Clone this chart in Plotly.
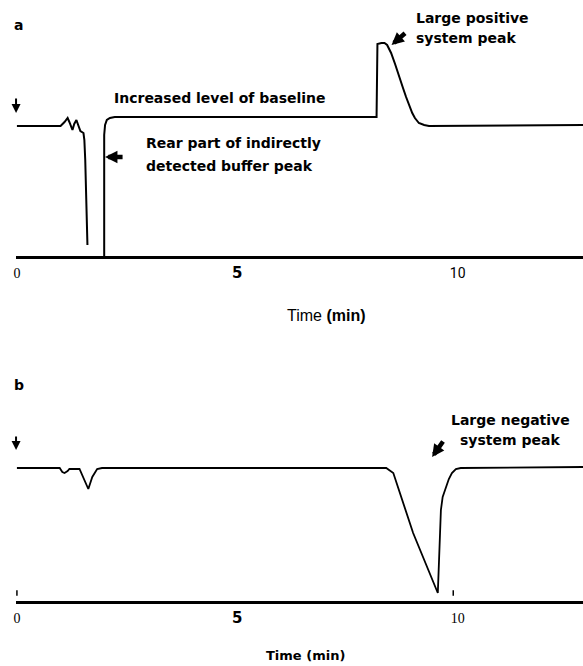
import plotly.graph_objects as go

# ---------------- data (time in min, detector signal in arbitrary units) ----------------
time_a = [0, 0.99, 1.08, 1.15, 1.19, 1.26, 1.30, 1.35, 1.39, 1.44, 1.51, 1.53, 1.55, 1.57, 1.60,
          None,
          1.98, 1.98, 2.00, 2.04, 2.11, 2.22, 8.16, 8.18, 8.27, 8.34, 8.40,
          8.49, 8.58, 8.67, 8.76, 8.83, 8.90, 8.97, 9.03, 9.12, 9.24, 9.35, 12.9]
signal_a = [0, 0, 0.4, 0.8, 0.4, -0.4, 0.2, 0.6, 0.1, -0.5, -0.7, -1.4, -3.4, -7.4, -11.9,
            None,
            -13.2, -0.9, 0.1, 0.6, 0.8, 0.9, 0.9, 8.2, 8.3, 8.3, 8.1,
            7.3, 6.2, 4.9, 3.8, 2.9, 2.0, 1.3, 0.8, 0.3, 0.1, 0.0, 0.1]

time_b = [0, 0.97, 1.03, 1.08, 1.15, 1.19, 1.42, 1.48, 1.55, 1.62, 1.71, 1.82, 1.93,
          8.38, 8.54, 8.99, 9.55, 9.62, 9.66, 9.73, 9.80, 9.87, 9.96, 10.07, 12.9]
signal_b = [0, 0, -0.4, -0.5, -0.3, -0.1, -0.1, -0.7, -1.5, -2.1, -0.9, -0.1, 0,
            0, -0.5, -6.5, -12.5, -4.2, -2.9, -1.9, -1.1, -0.5, -0.1, 0, 0.1]

tick_vals = [0, 5, 10]
tick_text_a = ["<span style='font-family:Liberation Serif'>0</span>",
               "<span style='font-family:DejaVu Sans;font-size:15px'><b>5</b></span>",
               "<span style='font-family:Roboto'>10</span>"]
tick_text_b = ["<span style='font-family:Liberation Serif'>0</span>",
               "<span style='font-family:DejaVu Sans;font-size:15px'><b>5</b></span>",
               "<span style='font-family:Liberation Serif'>10</span>"]
mark_times_b = [0, 9.9]
mark_level_b = [-12.5, -12.5]

# ---------------- figure ----------------
W, H = 583, 666
px_per_min = 44.3
x0_px = 14
x_range = [(13 - x0_px) / px_per_min, (W - x0_px) / px_per_min]

def py(v):
    return 1 - v / H

def px(v):
    return v / W

fig = go.Figure()
fig.add_trace(go.Scatter(x=time_a, y=signal_a, mode="lines", xaxis="x", yaxis="y",
                         line=dict(color="black", width=2), connectgaps=False,
                         showlegend=False, hoverinfo="skip"))
fig.add_trace(go.Scatter(x=time_b, y=signal_b, mode="lines", xaxis="x2", yaxis="y2",
                         line=dict(color="black", width=1.8),
                         showlegend=False, hoverinfo="skip"))
fig.add_trace(go.Scatter(x=mark_times_b, y=mark_level_b, mode="markers", xaxis="x2", yaxis="y2",
                         marker=dict(symbol="line-ns", size=4, line=dict(color="black", width=1.5)),
                         showlegend=False, hoverinfo="skip", cliponaxis=False))

FONT = "Liberation Sans"
xcommon = dict(range=x_range, domain=[13 / W, 1], showline=True, linecolor="black",
               showgrid=False, zeroline=False, ticks="", tickvals=tick_vals,
               tickfont=dict(family=FONT, size=14, color="black"), fixedrange=True)
ycommon = dict(visible=False, showgrid=False, zeroline=False, fixedrange=True)

fig.update_layout(
    width=W, height=H,
    margin=dict(l=0, r=0, t=0, b=0, pad=0),
    paper_bgcolor="white", plot_bgcolor="white",
    xaxis=dict(xcommon, anchor="y", linewidth=2.5, ticktext=tick_text_a, ticklabelstandoff=2),
    yaxis=dict(ycommon, domain=[1 - 256 / H, 1], range=[-13.0, 12.6]),
    xaxis2=dict(xcommon, anchor="y2", linewidth=3, ticktext=tick_text_b, ticklabelstandoff=2),
    yaxis2=dict(ycommon, domain=[1 - 601 / H, 1 - 330 / H], range=[-13.3, 13.8]),
)

bold = dict(family="DejaVu Sans", size=14, color="black")
bold13 = dict(family="DejaVu Sans", size=13, color="black")
plain15 = dict(family="Liberation Sans", size=16, color="black")
texts = [
    ("<b>a</b>", 9, 25, "left", bold),
    ("<b>Increased level of baseline</b>", 110, 98, "left", bold),
    ("<b>Rear part of indirectly</b>", 142, 143, "left", bold),
    ("<b>detected buffer peak</b>", 142, 166, "left", bold),
    ("<b>Large positive</b>", 413, 18, "left", bold),
    ("<b>system peak</b>", 413, 38, "left", bold),
    ("Time <b>(min)</b>", 325, 315, "center", plain15),
    ("<b>b</b>", 9, 385, "left", bold),
    ("<b>Large negative</b>", 510, 420, "center", bold),
    ("<b>system peak</b>", 510, 440, "center", bold),
    ("<b>Time (min)</b>", 304, 655, "center", bold13),
]
for t, x, y, anc, f in texts:
    fig.add_annotation(text=t, x=px(x), y=py(y), xref="paper", yref="paper",
                       xanchor=anc, yanchor="middle", showarrow=False, font=f)

# arrows: (head x in min, head y in signal, panel, tail offset px, width, size)
arrows = [
    (-0.02, 1.3, "a", 0, -16, 2, 0.9),
    (-0.02, 1.8, "b", 0, -15, 2, 0.9),
    (2.00, -3.1, "a", 19, 0, 4.5, 0.55),
    (8.50, 8.1, "a", 15, -13, 4.5, 0.55),
    (9.42, 1.1, "b", 12, -17, 4.5, 0.55),
]
for hx, hy, ax_name, dx, dy, w, s in arrows:
    xr, yr = ("x", "y") if ax_name == "a" else ("x2", "y2")
    fig.add_annotation(text="", x=hx, y=hy, xref=xr, yref=yr, ax=dx, ay=dy,
                       showarrow=True, arrowhead=2, arrowwidth=w, arrowsize=s,
                       arrowcolor="black")

fig.write_html("out.html", config={"displayModeBar": False},
               post_script="document.body.style.margin='0px';document.body.style.overflow='hidden';")
